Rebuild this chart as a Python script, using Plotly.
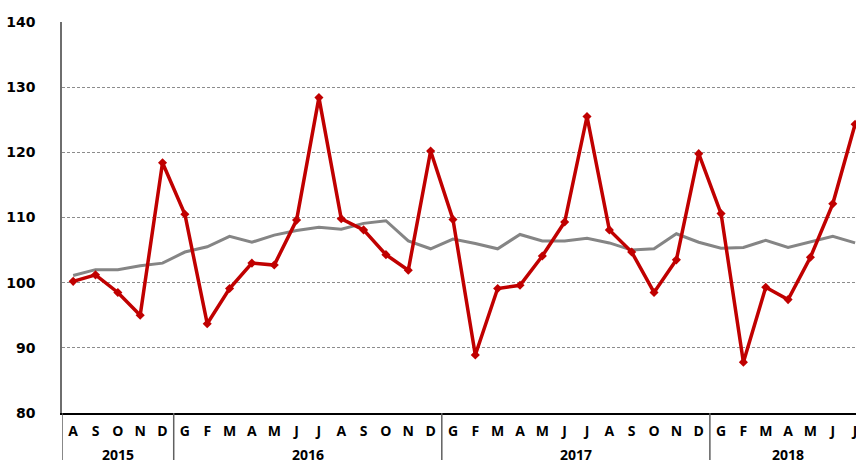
import plotly.graph_objects as go

months = ['A', 'S', 'O', 'N', 'D',
          'G', 'F', 'M', 'A', 'M', 'J', 'J', 'A', 'S', 'O', 'N', 'D',
          'G', 'F', 'M', 'A', 'M', 'J', 'J', 'A', 'S', 'O', 'N', 'D',
          'G', 'F', 'M', 'A', 'M', 'J', 'J']
years = ['2015', '2016', '2017', '2018']
year_counts = [5, 12, 12, 7]

red_series = [100.2, 101.2, 98.5, 95.0, 118.4,
              110.5, 93.7, 99.1, 103.0, 102.7, 109.6, 128.4, 109.8, 108.1, 104.3, 101.9, 120.2,
              109.7, 88.9, 99.1, 99.6, 104.1, 109.3, 125.5, 108.1, 104.7, 98.5, 103.5, 119.8,
              110.6, 87.8, 99.3, 97.4, 103.9, 112.1, 124.3]
grey_series = [101.1, 102.0, 102.0, 102.6, 103.0,
               104.7, 105.5, 107.1, 106.2, 107.3, 108.0, 108.5, 108.2, 109.1, 109.5, 106.4, 105.2,
               106.7, 106.0, 105.2, 107.4, 106.4, 106.4, 106.8, 106.1, 105.0, 105.2, 107.5, 106.2,
               105.3, 105.4, 106.5, 105.4, 106.2, 107.1, 106.1]
y_ticks = [80, 90, 100, 110, 120, 130, 140]

x = list(range(len(months)))

fig = go.Figure()
fig.add_trace(go.Scatter(
    x=x, y=grey_series, mode='lines',
    line=dict(color='#858585', width=3),
    showlegend=False, hoverinfo='skip'))
fig.add_trace(go.Scatter(
    x=x, y=red_series, mode='lines+markers',
    line=dict(color='#C00000', width=3.5),
    marker=dict(symbol='diamond', size=7, color='#C00000'),
    showlegend=False, hoverinfo='skip'))

# year labels and separators
shapes = []
annotations = []
start = 0
for i, (yr, n) in enumerate(zip(years, year_counts)):
    center = start + (n - 1) / 2
    annotations.append(dict(
        x=center, y=-0.107, xref='x', yref='paper', text=yr, showarrow=False,
        xanchor='center', yanchor='middle',
        font=dict(family='Open Sans', size=14, color='black', weight='bold')))
    if i < len(years) - 1:
        sep = start + n - 0.5
        shapes.append(dict(type='line', xref='x', yref='paper', x0=sep, x1=sep,
                           y0=0, y1=-0.13, line=dict(color='#606060', width=1.5)))
    start += n
shapes.append(dict(type='line', xref='x', yref='paper', x0=-0.5, x1=-0.5,
                   y0=0, y1=-0.13, line=dict(color='#606060', width=1.5)))

fig.update_layout(
    width=856, height=460,
    margin=dict(l=62, r=0, t=22, b=47),
    paper_bgcolor='white', plot_bgcolor='white',
    shapes=shapes, annotations=annotations,
    xaxis=dict(
        range=[-0.5, 35.04], tickmode='array', tickvals=x, ticktext=months,
        showgrid=False, zeroline=False, showline=True, linecolor='black', linewidth=1.5,
        ticks='', ticklabelstandoff=4, ticklabeloverflow='allow',
        tickfont=dict(family='Open Sans', size=14, color='black', weight='bold')),
    yaxis=dict(
        range=[80, 140], tickmode='array', tickvals=y_ticks,
        showgrid=True, gridcolor='#8c8c8c', griddash='3px,2px', gridwidth=1,
        zeroline=False, showline=True, linecolor='#6e6e6e', linewidth=1.5,
        ticks='', ticklabelstandoff=22,
        tickfont=dict(family='DejaVu Sans', size=14, color='black', weight='bold')),
)

fig.write_html('out.html', config={'displayModeBar': False},
               post_script="document.body.style.margin='0';document.body.style.padding='0';")
